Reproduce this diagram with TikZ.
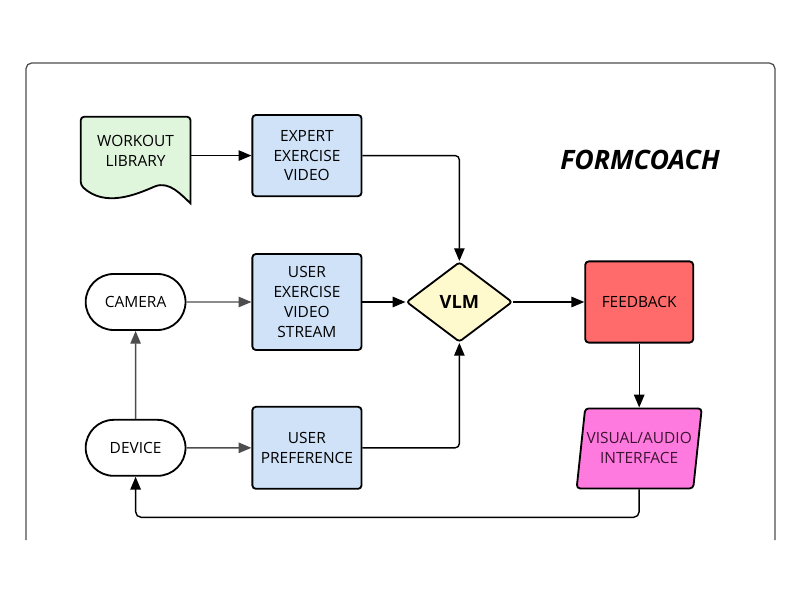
\documentclass[tikz,border=0pt]{standalone}
\usepackage{fontspec}
\setmainfont{Open Sans}
\usetikzlibrary{arrows.meta, positioning, shapes.geometric, shapes.misc, backgrounds, calc}
\definecolor{libgreen}{RGB}{223, 245, 220}
\definecolor{stepblue}{RGB}{207, 226, 248}
\definecolor{vlmyellow}{RGB}{255, 250, 205}
\definecolor{feedbackred}{RGB}{255, 107, 107}
\definecolor{uipink}{RGB}{255, 122, 222}
\definecolor{linegray}{RGB}{77, 77, 77}
\definecolor{uitext}{RGB}{60, 20, 50}

\begin{document}
\begin{tikzpicture}[
    node distance=1.4cm and 1.625cm,
    >={Triangle[length=3.2mm, width=2.6mm]},
    font=\fontsize{11}{14.2}\selectfont,
    sourcebox/.style={rounded rectangle, draw=black, fill=white, line width=1.3pt, minimum width=2.73cm, minimum height=1.4cm, align=center},
    stepbox/.style={rectangle, draw=black, fill=stepblue, line width=1.3pt, rounded corners=2.5pt, minimum width=2.73cm, minimum height=2.03cm, align=center},
    decisionbox/.style={diamond, aspect=1.325, draw=black, fill=vlmyellow, line width=1.3pt, rounded corners=2pt, minimum width=2.65cm, minimum height=2cm, inner sep=0pt, font=\fontsize{13}{16}\selectfont\bfseries},
    outbox/.style={rectangle, draw=black, fill=feedbackred, line width=1.3pt, rounded corners=2.5pt, minimum width=2.7cm, minimum height=2.03cm, align=center},
    iobox/.style={trapezium, trapezium left angle=76, trapezium right angle=104, trapezium stretches=true, draw=black, fill=uipink, line width=1.3pt, rounded corners=2.5pt, minimum width=3.08cm, minimum height=2cm, inner sep=1pt, align=center, text=uitext},
    flow/.style={->, line width=1pt, black},
    flowgray/.style={->, line width=1pt, linegray},
]
    \useasboundingbox (0,0) rectangle (20,15);

    % outer frame, open at the bottom
    \draw[linegray, line width=0.9pt, rounded corners=4pt] (0.65,1.5) -- (0.65,13.425) -- (19.375,13.425) -- (19.375,1.5);

    \node[font=\fontsize{19}{22}\selectfont\bfseries\itshape] (title) at (16.0,11.0) {FORMCOACH};

    \node[minimum width=2.73cm, minimum height=1.7cm, align=center] (lib) at (3.39,11.225) {WORKOUT\\LIBRARY};
    \node[sourcebox] (cam) at (3.39,7.45) {CAMERA};
    \node[sourcebox, below=2.2cm of cam] (dev) {DEVICE};

    \node[stepbox, minimum height=2.4cm, right=1.625cm of cam] (stream) {USER\\EXERCISE\\VIDEO\\STREAM};
    \node[stepbox, above=1.4cm of stream] (expert) {EXPERT\\EXERCISE\\VIDEO};
    \node[stepbox, minimum height=2.05cm, below=1.375cm of stream] (pref) {USER\\PREFERENCE};

    \node[decisionbox, right=1.075cm of stream] (vlm) {VLM};
    \node[outbox, right=1.775cm of vlm] (fb) {FEEDBACK};
    \node[iobox, below=1.6cm of fb] (ui) {VISUAL/AUDIO\\INTERFACE};

    % document shape behind the library text
    \begin{scope}[on background layer]
        \draw[line width=1.3pt, fill=libgreen] ([yshift=-0.45cm]lib.south east) [rounded corners=2.5pt] -- (lib.north east) -- (lib.north west) -- (lib.south west) [sharp corners]
            .. controls ($(lib.south west)+(0.6,-0.55)$) and ($(lib.south west)+(1.35,-0.25)$) .. ($(lib.south west)+(1.85,-0.03)$)
            .. controls ($(lib.south west)+(2.22,0.12)$) and ($(lib.south west)+(2.52,-0.25)$) .. ([yshift=-0.45cm]lib.south east) -- cycle;
    \end{scope}

    \draw[flow] (lib.east |- expert) -- (expert);
    \draw[flowgray] (cam) -- (stream);
    \draw[flowgray] (dev) -- (pref);
    \draw[flowgray] (dev) -- (cam);

    \draw[flow, rounded corners=3pt] (expert.east) -| (vlm.north);
    \draw[flow] (stream) -- (vlm);
    \draw[flow, rounded corners=3pt] (pref.east) -| (vlm.south);

    \draw[flow] (vlm) -- (fb);
    \draw[flow] (fb.south) -- (fb.south |- ui.north);
    \draw[flow, rounded corners=4pt] (ui.center |- ui.south) -- ++(0,-0.7) -| (dev.south);
\end{tikzpicture}
\end{document}
